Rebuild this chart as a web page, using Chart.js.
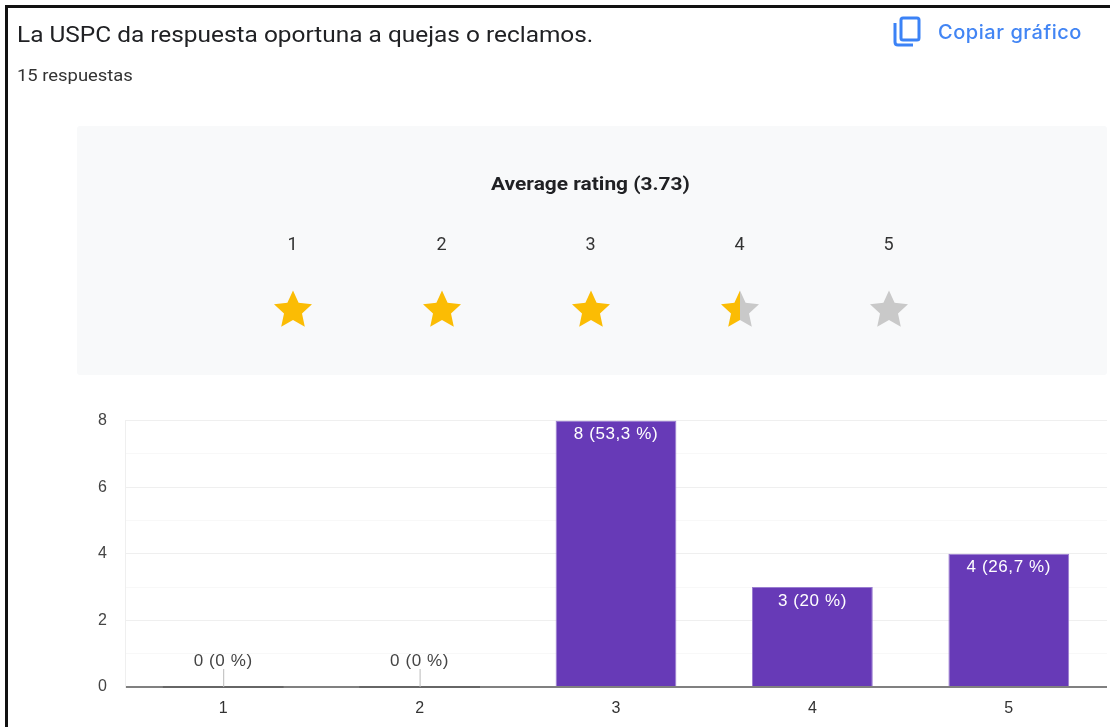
<!DOCTYPE html>
<html>
<head>
<meta charset="utf-8">
<title>La USPC da respuesta oportuna</title>
<script src="https://cdn.jsdelivr.net/npm/chart.js@4/dist/chart.umd.min.js"></script>
<style>
  html, body { margin: 0; padding: 0; background: #fff; }
  #page { position: relative; width: 1110px; height: 727px; overflow: hidden; font-family: Roboto, sans-serif; color: #202124; filter: blur(0.4px); }
  #page div, #page svg, #page canvas { position: absolute; }
  .edge { background: #111; }
  #title { left: 17px; top: 20px; font-size: 22.5px; line-height: 28px; white-space: nowrap; transform: scaleX(1.085); transform-origin: left; }
  #count { left: 17px; top: 67px; font-size: 16px; line-height: 18px; white-space: nowrap; color: #333; transform: scaleX(1.15); transform-origin: left; }
  #copy { left: 938px; top: 19px; font-size: 20px; line-height: 26px; font-weight: 500; letter-spacing: 0.55px; color: #4285f4; white-space: nowrap; font-family: Inter, Roboto, sans-serif; }
  #panel { left: 77px; top: 126px; width: 1030px; height: 249px; background: #f8f9fa; border-radius: 3px; }
  #avg { left: 77px; width: 1027px; top: 172px; font-size: 19px; line-height: 24px; font-weight: 700; text-align: center; color: #202124; transform: scaleX(1.1); }
  .num { width: 40px; top: 232px; font-size: 18px; line-height: 24px; text-align: center; color: #333; }
  canvas { left: 0; top: 393px; }
</style>
</head>
<body>
<div id="page">
  <div class="edge" style="left:5px;top:5px;width:1105px;height:3px"></div>
  <div class="edge" style="left:5px;top:5px;width:3px;height:722px"></div>
  <div id="title">La USPC da respuesta oportuna a quejas o reclamos.</div>
  <div id="count">15 respuestas</div>
  <svg style="left:892px;top:15px" width="30" height="32" viewBox="0 0 30 32" fill="none" stroke="#3b82f6" stroke-width="3">
    <rect x="9" y="3" width="18" height="22" rx="2"/>
    <path d="M3 8 V27 Q3 30 6 30 H21"/>
  </svg>
  <div id="copy">Copiar gráfico</div>
  <div id="panel"></div>
  <div id="avg"></div>
  <canvas id="chart" width="1110" height="334"></canvas>
</div>
<script>
const categories = ['1', '2', '3', '4', '5'];
const counts = [0, 0, 8, 3, 4];
const barLabels = ['0 (0 %)', '0 (0 %)', '8 (53,3 %)', '3 (20 %)', '4 (26,7 %)'];
const yTicks = [0, 2, 4, 6, 8];
const averageRating = '3.73';
const ratingLabels = ['1', '2', '3', '4', '5'];
const starFill = [1, 1, 1, 0.5, 0];

const page = document.getElementById('page');
document.getElementById('avg').textContent = 'Average rating (' + averageRating + ')';

// rating row above the chart
ratingLabels.forEach(function(label, i){
    const cx = 293 + i * 149;
    const num = document.createElement('div');
    num.className = 'num';
    num.style.left = (cx - 20.5) + 'px';
    num.textContent = label;
    page.appendChild(num);

    const pts = '20,0.5 25.6,12.8 39,14.3 29,23.4 31.8,36.7 20,30 8.2,36.7 11,23.4 1,14.3 14.4,12.8';
    const split = starFill[i] * 100;
    const star = document.createElementNS('http://www.w3.org/2000/svg', 'svg');
    star.setAttribute('width', 40);
    star.setAttribute('height', 40);
    star.setAttribute('viewBox', '0 0 40 40');
    star.style.left = (cx - 20) + 'px';
    star.style.top = '290px';
    star.innerHTML = '<defs><linearGradient id="s' + i + '">' +
        '<stop offset="' + split + '%" stop-color="#fbbc04"/>' +
        '<stop offset="' + split + '%" stop-color="#c9c9c9"/>' +
        '</linearGradient></defs><polygon points="' + pts + '" fill="url(#s' + i + ')"/>';
    page.appendChild(star);
});

// counts written on the bars, plus the little leader on zero bars
const barText = {
    id: 'barText',
    afterDatasetsDraw(chart){
        const ctx = chart.ctx;
        const bars = chart.getDatasetMeta(0).data;
        ctx.save();
        ctx.font = '17px "Liberation Sans"';
        ctx.letterSpacing = '0.6px';
        ctx.textAlign = 'center';
        ctx.textBaseline = 'middle';
        bars.forEach(function(bar, i){
            if (counts[i] === 0) {
                ctx.strokeStyle = '#666';
                ctx.lineWidth = 2;
                ctx.beginPath();
                ctx.moveTo(bar.x - bar.width / 2, bar.y);
                ctx.lineTo(bar.x + bar.width / 2, bar.y);
                ctx.stroke();
                ctx.strokeStyle = '#bbb';
                ctx.lineWidth = 1;
                ctx.beginPath();
                ctx.moveTo(bar.x + 0.5, bar.y);
                ctx.lineTo(bar.x + 0.5, bar.y - 18);
                ctx.stroke();
                ctx.fillStyle = '#444';
                ctx.fillText(barLabels[i], bar.x, bar.y - 26);
            } else {
                ctx.fillStyle = '#fff';
                ctx.fillText(barLabels[i], bar.x, bar.y + 14);
            }
        });
        ctx.restore();
    }
};

new Chart(document.getElementById('chart').getContext('2d'), {
    type: 'bar',
    data: {
        labels: categories,
        datasets: [{
            data: counts,
            backgroundColor: '#673ab7',
            borderColor: '#9a7dd0',
            borderWidth: { top: 1, left: 1, right: 1, bottom: 0 },
            barPercentage: 0.615,
            categoryPercentage: 1
        }]
    },
    options: {
        responsive: false,
        animation: false,
        layout: { padding: { top: 7, right: 3, bottom: 0, left: 0 } },
        plugins: { legend: { display: false }, tooltip: { enabled: false } },
        scales: {
            x: {
                grid: { display: false },
                border: { display: false },
                afterFit(scale){ scale.height = 40; },
                ticks: { color: '#333', padding: 4, font: { family: '"Liberation Sans"', size: 16 } }
            },
            y: {
                min: 0,
                max: 8,
                afterFit(scale){ scale.width = 125; },
                border: { color: '#efefef' },
                grid: {
                    drawTicks: false,
                    color(c){
                        if (c.tick.value === 0) return '#808080';
                        return yTicks.includes(c.tick.value) ? '#efefef' : '#f8f8f8';
                    },
                    lineWidth(c){ return c.tick.value === 0 ? 2 : 1; }
                },
                ticks: {
                    stepSize: 1,
                    padding: 18,
                    color: '#444',
                    font: { family: '"Liberation Sans"', size: 16 },
                    callback(v){ return yTicks.includes(v) ? String(v) : ''; }
                }
            }
        }
    },
    plugins: [barText]
});
</script>
</body>
</html>
